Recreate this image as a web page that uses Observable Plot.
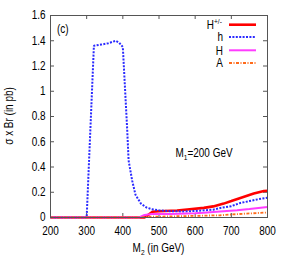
<!DOCTYPE html>
<html><head><meta charset="utf-8">
<script src="https://cdn.jsdelivr.net/npm/d3@7"></script>
<script src="https://cdn.jsdelivr.net/npm/@observablehq/plot@0.6"></script>
<style>body{margin:0;background:#fff} svg{display:block}</style>
</head><body><div id="chart"></div>
<script>
const xTicks = [200, 300, 400, 500, 600, 700, 800];
const yTicks = [0, 0.2, 0.4, 0.6, 0.8, 1, 1.2, 1.4, 1.6];

// H+/- (red, solid)
const hpmX = [200, 460, 482, 500, 550, 578, 624, 650, 679, 700, 725, 762, 790, 800];
const hpmY = [0, 0, 0.045, 0.05, 0.055, 0.063, 0.076, 0.088, 0.11, 0.13, 0.155, 0.19, 0.21, 0.212];
// h (blue, dotted)
const hX = [200, 300, 320, 340, 360, 380, 390, 400, 412, 416, 426, 435, 450, 465, 480, 500, 530, 570, 600, 650, 670, 700, 725, 750, 775, 800];
const hY = [0, 0, 1.36, 1.37, 1.38, 1.40, 1.385, 1.35, 0.70, 0.45, 0.29, 0.18, 0.11, 0.08, 0.065, 0.057, 0.05, 0.048, 0.052, 0.062, 0.076, 0.09, 0.115, 0.13, 0.145, 0.157];
// H (magenta)
const bigHX = [200, 445, 460, 480, 532, 600, 624, 650, 716, 750, 800];
const bigHY = [0, 0, 0.02, 0.027, 0.028, 0.034, 0.037, 0.043, 0.058, 0.068, 0.084];
// A (orange, dash-dot)
const aX = [200, 440, 467, 480, 550, 600, 670, 700, 750, 800];
const aY = [0, 0, 0.004, 0.006, 0.01, 0.013, 0.018, 0.024, 0.032, 0.04];

const names = ["H", "h", "H", "A"];
const colors = ["#ff0000", "#2a2aff", "#ff3cff", "#ff6a1a"];
const widths = [2.6, 2, 2, 1.8];
const dashes = [null, "2,1.4", null, "3,1.5,1,1.5"];

const FONT = '"Liberation Sans",Arial,sans-serif';
const NARROW = 0.83;
const W = 284, H = 256, mL = 50, mR = 17, mT = 15, mB = 39;
const fW = W - mL - mR, fH = H - mT - mB;

const toRows = (xs, ys) => xs.map((x, i) => ({x, y: ys[i]}));
const series = [toRows(hpmX, hpmY), toRows(hX, hY), toRows(bigHX, bigHY), toRows(aX, aY)];

const chart = Plot.plot({
  width: W, height: H,
  marginLeft: mL, marginRight: mR, marginTop: mT, marginBottom: mB,
  style: {fontFamily: FONT, fontSize: "12px", color: "#000", background: "#fff"},
  x: {domain: [200, 800]},
  y: {domain: [0, 1.6]},
  marks: [
    Plot.axisX(xTicks, {tickSize: 0, tickPadding: 9, label: null, fontSize: 12}),
    Plot.axisY(yTicks, {tickSize: 0, tickPadding: 5, label: null, fontSize: 12, tickFormat: d => String(d)}),
    Plot.tickX(xTicks, {x: d => d, insetTop: fH - 4, stroke: "#555"}),
    Plot.tickX(xTicks, {x: d => d, insetBottom: fH - 4, stroke: "#555"}),
    Plot.tickY(yTicks, {y: d => d, insetRight: fW - 4, stroke: "#555"}),
    Plot.tickY(yTicks, {y: d => d, insetLeft: fW - 4, stroke: "#555"}),
    ...series.map((rows, i) => Plot.line(rows, {
      x: "x", y: "y", stroke: colors[i], strokeWidth: widths[i],
      strokeDasharray: dashes[i], strokeLinejoin: "miter", strokeLinecap: "butt"
    })),
    Plot.frame({stroke: "#555"})
  ]
});

// condense Plot's own tick labels horizontally (Helvetica-narrow look)
d3.select(chart).selectAll("text").each(function () {
  const t = this.getAttribute("transform");
  if (t) this.setAttribute("transform", t + ` scale(${NARROW},1)`);
});

const svg = d3.select(chart);
const txt = (x, y, anchor) => svg.append("text")
  .attr("transform", `translate(${x},${y}) scale(${NARROW},1)`)
  .attr("text-anchor", anchor)
  .attr("font-family", FONT).attr("font-size", 12).attr("fill", "#000");

// axis labels
const xl = txt(mL + fW / 2, 252, "middle");
xl.append("tspan").text("M");
xl.append("tspan").attr("font-size", 8).attr("dy", 2.5).text("2");
xl.append("tspan").attr("dy", -2.5).text(" (in GeV)");

svg.append("text")
  .attr("transform", `translate(13.3,${mT + fH / 2}) rotate(-90) scale(${NARROW},1)`)
  .attr("text-anchor", "middle")
  .attr("font-family", FONT).attr("font-size", 12).attr("fill", "#000")
  .text("σ x Br (in pb)");

// panel tag
txt(57, 33, "start").text("(c)");

// annotation
const m1 = txt(175.5, 157, "start");
m1.append("tspan").text("M");
m1.append("tspan").attr("font-size", 8).attr("dy", 2.5).text("1");
m1.append("tspan").attr("dy", -2.5).text("=200 GeV");

// legend
const rowY = [24.7, 37, 50.3, 63];
names.forEach((n, i) => {
  txt(i === 0 ? 214 : 223, rowY[i] + 4.3, "end").text(n);
  if (i === 0) {
    txt(214, rowY[i] - 1, "start").attr("font-size", 8).text("+/-");
  }
  svg.append("line")
    .attr("x1", 229).attr("x2", 256).attr("y1", rowY[i]).attr("y2", rowY[i])
    .attr("stroke", colors[i]).attr("stroke-width", widths[i])
    .attr("stroke-dasharray", dashes[i]);
});

document.getElementById("chart").appendChild(chart);
</script>
</body></html>
